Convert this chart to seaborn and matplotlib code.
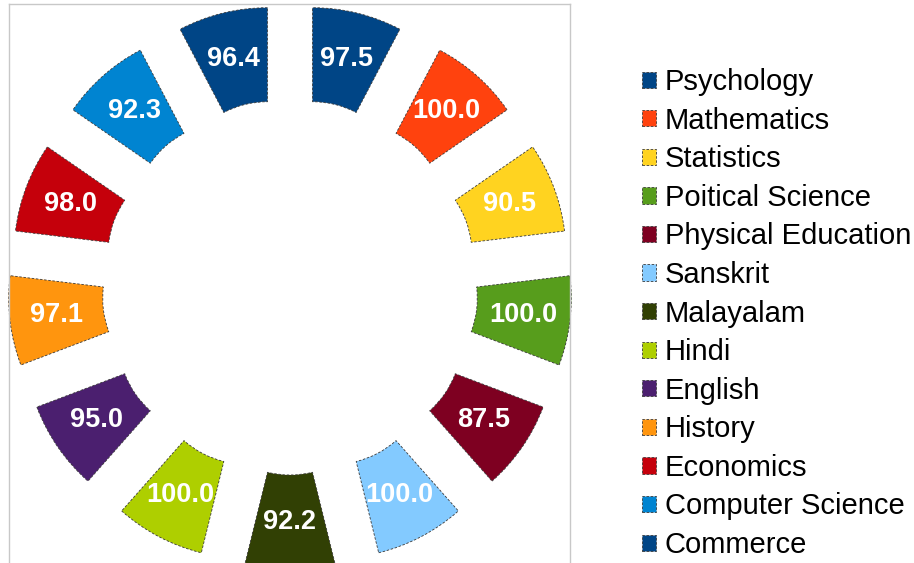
import matplotlib
matplotlib.use('Agg')
import matplotlib.pyplot as plt
import seaborn as sns

subjects = ["Psychology", "Mathematics", "Statistics", "Poitical Science",
            "Physical Education", "Sanskrit", "Malayalam", "Hindi", "English",
            "History", "Economics", "Computer Science", "Commerce"]
pass_pct = [97.5, 100.0, 90.5, 100.0, 87.5, 100.0, 92.2, 100.0, 95.0,
            97.1, 98.0, 92.3, 96.4]
colors = ["#004586", "#ff420e", "#ffd320", "#579d1c", "#7e0021", "#83caff",
          "#314004", "#aecf00", "#4b1f6f", "#ff950e", "#c5000b", "#0084d1",
          "#004586"]

sns.set_theme(style='white')
plt.rcParams['font.family'] = ['Liberation Sans', 'DejaVu Sans']
palette = sns.color_palette(colors)

W, H = 914, 563
fig = plt.figure(figsize=(W / 100, H / 100), dpi=100)
left, top, right, bottom = 8.5, 4.3, 570, 563
ax = fig.add_axes([left / W, 1 - bottom / H, (right - left) / W, (bottom - top) / H])

sizes = [1] * len(subjects)
wedges, texts = ax.pie(
    sizes,
    labels=[f"{v:.1f}" for v in pass_pct],
    colors=palette,
    startangle=90,
    counterclock=False,
    radius=1.0,
    explode=[0.5] * len(subjects),
    labeldistance=0.75,
    wedgeprops=dict(width=0.5, edgecolor='#3a3a3a', linewidth=0.6,
                    linestyle=(0, (3, 2))),
    textprops=dict(color='white', fontsize=19.5, fontweight='bold'),
)
for t in texts:
    t.set_ha('center')
    t.set_va('center')

cx, cy, s = 290, 287, 188
ax.set_aspect('auto')
ax.set_xlim((left - cx) / s, (right - cx) / s)
ax.set_ylim((cy - bottom) / s, (cy - top) / s)
ax.set_frame_on(True)
for name, sp in ax.spines.items():
    sp.set_color('#c8c8c8')
    sp.set_linewidth(1.0)
ax.spines['bottom'].set_visible(False)
ax.set_xticks([])
ax.set_yticks([])

fig.legend(wedges, subjects, loc='upper left',
           bbox_to_anchor=(642 / W, 1 - 68 / H),
           frameon=False, fontsize=21, labelcolor='black',
           handlelength=0.48, handleheight=0.48, handletextpad=0.3,
           labelspacing=0.363, borderpad=0, borderaxespad=0)

fig.savefig('out.png', dpi=100, facecolor='white')
